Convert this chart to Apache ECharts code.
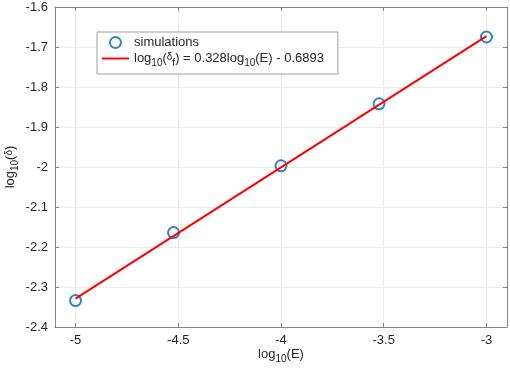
<!DOCTYPE html>
<html><head><meta charset="utf-8">
<script src="https://cdn.jsdelivr.net/npm/echarts@6/dist/echarts.min.js"></script>
<style>html,body{margin:0;padding:0;background:#fff}#c{width:510px;height:371px}</style>
</head><body><div id="c"></div>
<script>
var simX = [-5, -4.523, -4, -3.523, -3];
var simY = [-2.334, -2.164, -1.997, -1.842, -1.675];
var fitX = [-5, -3];
var fitY = [-2.329, -1.673];
var xTicks = [-5, -4.5, -4, -3.5, -3];
var yTicks = [-2.4, -2.3, -2.2, -2.1, -2, -1.9, -1.8, -1.7, -1.6];

var FONT = '"Liberation Sans", Arial, Helvetica, sans-serif';
var txt = '#262626', axc = '#858585', gridc = '#ebebeb';
var rich = {
  n: {fontSize: 13, fontFamily: FONT, color: txt},
  s: {fontSize: 10, fontFamily: FONT, color: txt, padding: [9, 0, 0, 0]},
  d: {fontSize: 10, fontFamily: FONT, color: txt, padding: [0, 0, 3, 0]}
};
var chart = echarts.init(document.getElementById('c'), null, {renderer: 'canvas'});
function baseAxis(extra) {
  return Object.assign({
    type: 'value',
    axisLine: {show: true, onZero: false, lineStyle: {color: axc, width: 1}},
    axisTick: {show: true, inside: true, length: 4, lineStyle: {color: axc}},
    axisLabel: {color: txt, fontSize: 13, fontFamily: FONT},
    splitLine: {show: false}
  }, extra);
}
chart.setOption({
  animation: false,
  grid: {left: 55, top: 7, right: 3, bottom: 44, containLabel: false, outerBoundsMode: 'none'},
  legend: {
    left: 97, top: 32, orient: 'vertical',
    backgroundColor: '#fff', borderColor: '#a0a0a0', borderWidth: 1,
    padding: [4, 14, 6, 5], itemGap: 3, itemWidth: 27, itemHeight: 11,
    data: ['simulations', {name: 'fit', icon: 'path://M0,0L28,0L28,2L0,2Z'}],
    textStyle: {fontSize: 13, fontFamily: FONT, color: txt, rich: rich},
    formatter: function (name) {
      if (name === 'fit') {
        return '{n|log}{s|10}{n|(}{d|δ}{s|f}{n|) = 0.328log}{s|10}{n|(E) - 0.6893}';
      }
      return '{n|' + name + '}';
    }
  },
  xAxis: [
    baseAxis({
      min: -5.1, max: -2.9, position: 'bottom',
      axisTick: {show: true, inside: true, length: 4, lineStyle: {color: axc}, customValues: xTicks},
      axisLabel: {color: txt, fontSize: 13, fontFamily: FONT, margin: 7, customValues: xTicks},
      splitLine: {show: true, lineStyle: {color: gridc, width: 1}},
      name: '{n|log}{s|10}{n|(E)}', nameLocation: 'middle', nameGap: 18, nameMoveOverlap: false,
      nameTextStyle: {rich: rich}
    }),
    baseAxis({
      min: -5.1, max: -2.9, position: 'top',
      axisTick: {show: true, inside: true, length: 4, lineStyle: {color: axc}, customValues: xTicks},
      axisLabel: {show: false}
    })
  ],
  yAxis: [
    baseAxis({
      min: -2.4, max: -1.6, interval: 0.1, position: 'left',
      axisLabel: {color: txt, fontSize: 13, fontFamily: FONT, margin: 7,
        formatter: function (v) { return String(Math.round(v * 10) / 10); }},
      splitLine: {show: true, lineStyle: {color: gridc, width: 1}},
      name: '{n|log}{s|10}{n|(}{d|δ}{n|)}', nameLocation: 'middle', nameGap: 35, nameRotate: 90,
      nameMoveOverlap: false,
      nameTextStyle: {rich: rich}
    }),
    baseAxis({
      min: -2.4, max: -1.6, interval: 0.1, position: 'right',
      axisLabel: {show: false}
    })
  ],
  series: [
    {
      name: 'simulations', type: 'scatter', xAxisIndex: 0, yAxisIndex: 0, z: 3,
      symbol: 'circle', symbolSize: 11,
      itemStyle: {color: 'rgba(0,0,0,0)', borderColor: '#0066B0', borderWidth: 2},
      data: simX.map(function (x, i) { return [x, simY[i]]; })
    },
    {
      name: 'fit', type: 'line', xAxisIndex: 0, yAxisIndex: 0, z: 4,
      symbol: 'none', lineStyle: {color: '#ff0000', width: 2}, itemStyle: {color: '#ff0000'},
      data: fitX.map(function (x, i) { return [x, fitY[i]]; })
    }
  ]
});
</script></body></html>
